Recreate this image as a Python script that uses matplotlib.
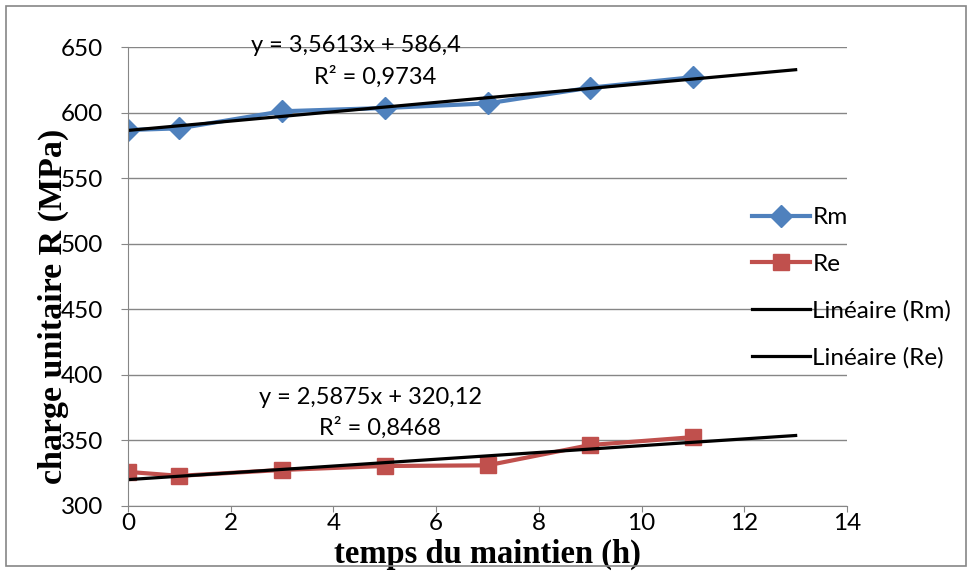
import numpy as np
import matplotlib.pyplot as plt
from matplotlib.patches import Rectangle

# données
temps = [0, 1, 3, 5, 7, 9, 11]
rm = [586.7, 588, 601, 603.5, 607, 619, 627]
re = [326, 323, 327.5, 330.5, 331, 346.5, 352.5]

# courbes de tendance (Excel)
rm_a, rm_b = 3.5613, 586.4
re_a, re_b = 2.5875, 320.12
trend_x = np.array([0, 13])

BLUE = "#4F81BD"
RED = "#C0504D"
GRID = "#868686"

fig = plt.figure(figsize=(9.72, 5.72), dpi=100)
ax = fig.add_axes([0.1317, 0.1154, 0.7397, 0.8024])

ax.plot(temps, rm, color=BLUE, lw=3, marker="D", ms=11, label="Rm")
ax.plot(temps, re, color=RED, lw=3, marker="s", ms=11, label="Re")
ax.plot(trend_x, rm_a * trend_x + rm_b, color="black", lw=2.3, label="Linéaire (Rm)")
ax.plot(trend_x, re_a * trend_x + re_b, color="black", lw=2.3, label="Linéaire (Re)")

ax.set_xlim(0, 14)
ax.set_ylim(300, 650)
ax.set_xticks(range(0, 15, 2))
ax.set_yticks(range(300, 651, 50))
ax.grid(axis="y", color=GRID, lw=1)
ax.set_axisbelow(True)
for s in ["top", "right"]:
    ax.spines[s].set_visible(False)
for s in ["left", "bottom"]:
    ax.spines[s].set_color(GRID)
ax.tick_params(colors=GRID, labelcolor="black", labelsize=17.5)
ax.tick_params(axis="y", length=5, pad=13)
ax.tick_params(axis="x", length=4, pad=1)
for lab in ax.get_xticklabels() + ax.get_yticklabels():
    lab.set_family("Lato")

ax.set_ylabel("charge unitaire R (MPa)", family="Liberation Serif",
              fontweight="bold", fontsize=24.5)
ax.yaxis.set_label_coords(-0.082, 0.434)
ax.set_xlabel("temps du maintien (h)", family="Liberation Serif",
              fontweight="bold", fontsize=23.5)
ax.xaxis.set_label_coords(0.50, -0.072)

# équations
eq = dict(family="Lato", fontsize=17, ha="center", va="center")
fig.text(356 / 972, 1 - 46 / 572, "y = 3,5613x + 586,4", **eq)
fig.text(375 / 972, 1 - 77 / 572, "R² = 0,9734", **eq)
fig.text(370 / 972, 1 - 398 / 572, "y = 2,5875x + 320,12", **eq)
fig.text(380 / 972, 1 - 428 / 572, "R² = 0,8468", **eq)

ax.legend(loc="upper left", bbox_to_anchor=(752 / 972, 1 - 207 / 572),
          bbox_transform=fig.transFigure, frameon=False,
          prop={"family": "Lato", "size": 17.5}, handlelength=2.4,
          handletextpad=0.08, labelspacing=1.05, borderpad=0, borderaxespad=0)

fig.patches.append(Rectangle((6 / 972, 6 / 572), 960 / 972, 560 / 572,
                             transform=fig.transFigure, fill=False,
                             edgecolor=GRID, lw=1.2))

fig.savefig("out.png", dpi=100)
